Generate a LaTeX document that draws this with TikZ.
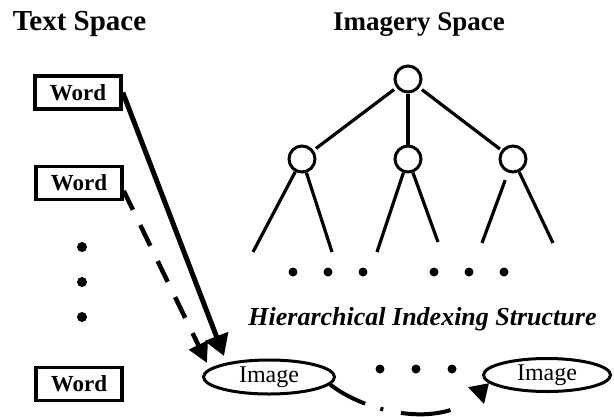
\documentclass[tikz,border=0pt]{standalone}
\usepackage{fontspec}
\setmainfont{Liberation Serif}
\usetikzlibrary{arrows.meta,shapes.geometric,calc}
\begin{document}
\begin{tikzpicture}[x=1pt,y=-1pt,
 wordbox/.style={draw,line width=3.5pt,minimum width=86pt,minimum height=33pt,inner sep=0pt,font=\fontsize{23}{25}\selectfont\bfseries},
 imgnode/.style={draw,ellipse,line width=3pt,inner sep=0pt,font=\fontsize{24}{26}\selectfont},
 tnode/.style={draw,circle,line width=3pt,minimum size=26pt,inner sep=0pt},
 edge/.style={line width=3.2pt},
 title/.style={anchor=base,font=\fontsize{27}{30}\selectfont\bfseries},
]
\useasboundingbox (0,0) rectangle (614,416);
% titles
\node[title,font=\fontsize{29}{31}\selectfont\bfseries] (ts) at (79.5,30) {Text Space};
\node[title] (is) at (419,30) {Imagery Space};
% words
\node[wordbox] (w1) at (78,92.5) {Word};
\node[wordbox] (w2) at (79,183) {Word};
\node[wordbox] (w3) at (79,384) {Word};
% vertical dots
\foreach \yy in {247,282,317} \fill (82,\yy) circle[radius=5pt];
% tree
\node[tnode] (r) at (408,79) {};
\node[tnode] (c1) at (302,159) {};
\node[tnode] (c2) at (408,159) {};
\node[tnode] (c3) at (513,159) {};
\coordinate (l1) at (253,252);
\coordinate (l2) at (332,252);
\coordinate (l3) at (377,252);
\coordinate (l4) at (438,242);
\coordinate (l5) at (482,243);
\coordinate (l6) at (553,243);
\draw[edge,shorten <=3pt,shorten >=3pt] (r) -- (c1);
\draw[edge] (r) -- (c2);
\draw[edge,shorten <=3pt,shorten >=2pt] (r) -- (c3);
\draw[edge] (c1) -- (l1);
\draw[edge] (c1) -- (l2);
\draw[edge] (c2) -- (l3);
\draw[edge] (c2) -- (l4);
\draw[edge,shorten <=8pt] (c3) -- (l5);
\draw[edge] (c3) -- (l6);
% row of dots
\foreach \xx in {293,328,363,434,469,504} \fill (\xx,272) circle[radius=4.5pt];
% label
\node[anchor=base,font=\fontsize{26}{28}\selectfont\bfseries\itshape] (hl) at (422.5,325) {Hierarchical Indexing Structure};
% images
\node[imgnode,minimum width=131pt,minimum height=34pt] (e1) at (269,377) {Image};
\node[imgnode,minimum width=127pt,minimum height=33pt] (e2) at (547,375) {Image};
\foreach \xx in {380,416,452} \fill (\xx,369) circle[radius=4.5pt];
% arrows
\draw[line width=5pt,-{Triangle[length=21pt,width=24pt]}] (w1.east) -- ($(e1.west)+(22,-21)$);
\draw[line width=4.5pt,dash pattern=on 23pt off 17pt,dash phase=2pt,-{Triangle[length=20pt,width=20pt]}] (w2.-10) -- ($(e1.west)+(5,-14)$);
\draw[line width=4pt,dash pattern=on 40pt off 16pt on 3pt off 18pt on 50pt off 40pt,-{Triangle[length=18pt,width=22pt]}] (e1.-7) .. controls (365,412) and (440,430) .. (e2.188);
\end{tikzpicture}
\end{document}
